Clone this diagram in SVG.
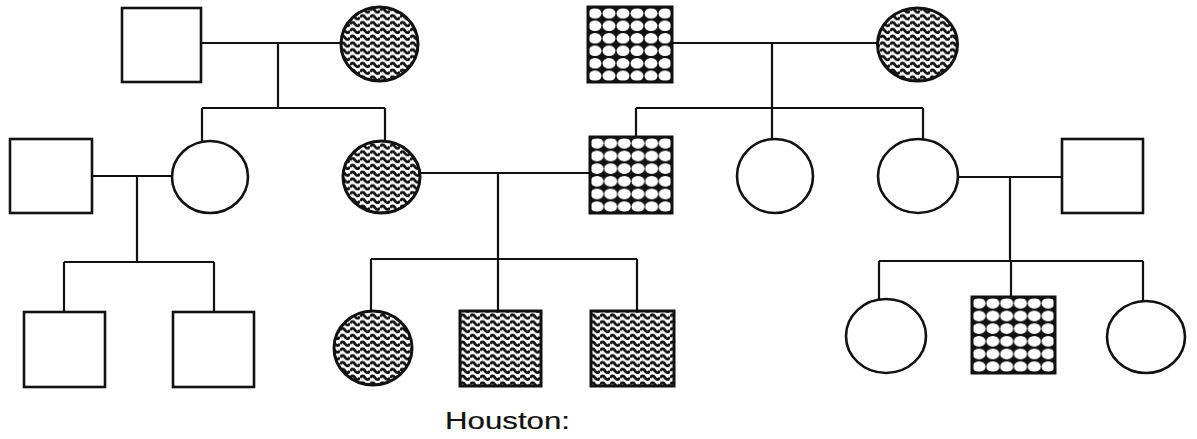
<svg xmlns="http://www.w3.org/2000/svg" width="1197" height="439" viewBox="0 0 1197 439">
<style>
.n{fill:#fff;stroke:#111;stroke-width:2.6}
.w{fill:url(#wavy);stroke:#111;stroke-width:3}
.c{fill:url(#dots);stroke:#111;stroke-width:3}
.ln{fill:none;stroke:#111;stroke-width:2.2}
.lab{font-family:"Liberation Sans",Arial,sans-serif;font-size:23px;fill:#111;stroke:#111;stroke-width:0.2}
</style>
<defs>
<pattern id="wavy" patternUnits="userSpaceOnUse" width="10" height="6.8">
<rect width="10" height="6.8" fill="#fff"/>
<path d="M0,3.7 Q2.5,0.2 5,3.7 Q7.5,7.2 10,3.7" fill="none" stroke="#111" stroke-width="2.8"/>
</pattern>
<pattern id="dots" patternUnits="objectBoundingBox" width="0.16667" height="0.16667">
<rect x="-1" y="-1" width="20" height="20" fill="#111"/>
<ellipse cx="7" cy="6.3" rx="6.5" ry="5.3" fill="#fff"/>
</pattern>
</defs>
<g id="connectors">
<path class="ln" d="M201,43 H341 M278,43 V108 M202,108 H385 M202,108 V141 M385,108 V141"/>
<path class="ln" d="M672,43 H877 M772,43 V108 M636,108 H923 M636,108 V137 M772,108 V139 M923,108 V139"/>
<path class="ln" d="M92,176 H172 M137,176 V262 M64,262 H214 M64,262 V312 M214,262 V312"/>
<path class="ln" d="M420,173 H590 M498,173 V259 M371,259 H637 M371,259 V311 M498,259 V311 M637,259 V311"/>
<path class="ln" d="M958,177 H1062 M1010,177 V261 M879,261 H1143 M879,261 V299 M1011,261 V297 M1143,261 V301"/>
</g>
<g id="g1a"><rect class="n" x="122" y="8" width="79" height="74"/></g>
<g id="g1b"><ellipse class="w" cx="379.5" cy="44" rx="38.5" ry="37"/></g>
<g id="g1c"><rect class="c" x="588" y="7" width="84" height="75"/></g>
<g id="g1d"><ellipse class="w" cx="917.5" cy="44.5" rx="40" ry="36.5"/></g>
<g id="g2a"><rect class="n" x="10" y="139" width="82" height="74"/></g>
<g id="g2b"><ellipse class="n" cx="210" cy="177" rx="38" ry="36"/></g>
<g id="g2c"><ellipse class="w" cx="381.5" cy="177" rx="38.5" ry="36"/></g>
<g id="g2d"><rect class="c" x="590" y="137" width="82" height="76"/></g>
<g id="g2e"><ellipse class="n" cx="775" cy="176" rx="38" ry="37"/></g>
<g id="g2f"><ellipse class="n" cx="918" cy="176" rx="40" ry="37"/></g>
<g id="g2g"><rect class="n" x="1062" y="139" width="81" height="74"/></g>
<g id="g3a"><rect class="n" x="24" y="312" width="81" height="75"/></g>
<g id="g3b"><rect class="n" x="173" y="312" width="81" height="75"/></g>
<g id="g3c"><ellipse class="w" cx="373" cy="348" rx="39" ry="37"/></g>
<g id="g3d"><rect class="w" x="460" y="311" width="81" height="75"/></g>
<g id="g3e"><rect class="w" x="591" y="311" width="83" height="75"/></g>
<g id="g3f"><ellipse class="n" cx="886" cy="336" rx="40" ry="37"/></g>
<g id="g3g"><rect class="c" x="972" y="297" width="83" height="76"/></g>
<g id="g3h"><ellipse class="n" cx="1146" cy="337" rx="39" ry="36"/></g>
<text class="lab" x="445" y="429" textLength="125" lengthAdjust="spacingAndGlyphs">Houston:</text>
</svg>
